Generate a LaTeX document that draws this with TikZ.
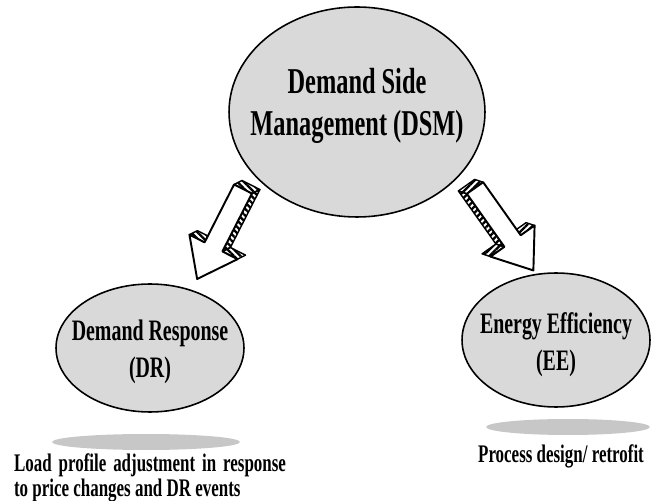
\documentclass[tikz,border=0pt]{standalone}
\usepackage{fontspec}
\newfontfamily\narrowserif[FakeStretch=0.67]{Liberation Serif}
\usetikzlibrary{shapes.geometric,patterns.meta}

\tikzset{
  bubble/.style={ellipse, draw=black, line width=0.9pt, fill=black!15, inner sep=0pt},
  floorshadow/.style={ellipse, fill=black!22, draw=none, inner sep=0pt},
  bigtext/.style={inner sep=0pt, align=center,
    font=\narrowserif\bfseries\fontsize{20.7pt}{23.9pt}\selectfont},
  midtext/.style={inner sep=0pt, align=center,
    font=\narrowserif\bfseries\fontsize{16.9pt}{21pt}\selectfont},
  smalltext/.style={inner sep=0pt,
    font=\narrowserif\bfseries\fontsize{14.4pt}{12.2pt}\selectfont},
  sideface/.style={draw=black, line width=0.8pt, line join=round,
    pattern={Lines[angle=#1, distance=2.6pt, line width=1.3pt]}},
  frontface/.style={draw=black, line width=1.1pt, line join=round, fill=white},
  % 3D block arrow: tail at the origin, pointing down, depth (5.3,7.2)
  blockarrow/.pic={
    \path[sideface=#1] (-10,0) -- (10,0) -- (15.3,7.2) -- (-4.7,7.2) -- cycle;
    \path[sideface=#1] (10,0) -- (10,-65) -- (15.3,-57.8) -- (15.3,7.2) -- cycle;
    \path[sideface=#1] (10,-65) -- (27,-65) -- (32.3,-57.8) -- (15.3,-57.8) -- cycle;
    \path[sideface=#1] (-27,-65) -- (-10,-65) -- (-4.7,-57.8) -- (-21.7,-57.8) -- cycle;
    \path[frontface] (-10,0) -- (10,0) -- (10,-65) -- (27,-65) -- (0,-101)
      -- (-27,-65) -- (-10,-65) -- cycle;
  }
}

\begin{document}
\begin{tikzpicture}[x=0.02cm, y=0.02cm]
\useasboundingbox (0,0) rectangle (665,500);

% main bubble
\node[bubble, minimum width=5.12cm, minimum height=4.2cm] (dsm) at (357,388) {};
\node[bigtext] (dsmtext) at (357,394) {Demand Side\\Management (DSM)};

% floor shadows
\node[floorshadow, minimum width=3.76cm, minimum height=0.32cm] (drshadow) at (146,58) {};
\node[floorshadow, minimum width=3.28cm, minimum height=0.32cm] (eeshadow) at (568,73) {};

% lower bubbles
\node[bubble, minimum width=3.76cm, minimum height=2.56cm] (dr) at (150,152) {};
\node[midtext] (drtext) at (150,148) {Demand Response\\(DR)};

\node[bubble, minimum width=3.76cm, minimum height=2.68cm] (ee) at (556,160) {};
\node[midtext] (eetext) at (556,155) {Energy Efficiency\\(EE)};

% captions
\node[smalltext, text width=5.44cm, align=justify] (drnote) at (150,22)
  {Load profile adjustment in response\linebreak to price changes and DR events};
\node[smalltext] (eenote) at (561,43.5) {Process design/ retrofit};

% block arrows
\coordinate (tailL) at (243,311);
\coordinate (tailR) at (475,312);
\pic[rotate=-27] at (tailL) {blockarrow=-45};
\pic[rotate=35.3, xscale=-1] at (tailR) {blockarrow=45};
\end{tikzpicture}
\end{document}
